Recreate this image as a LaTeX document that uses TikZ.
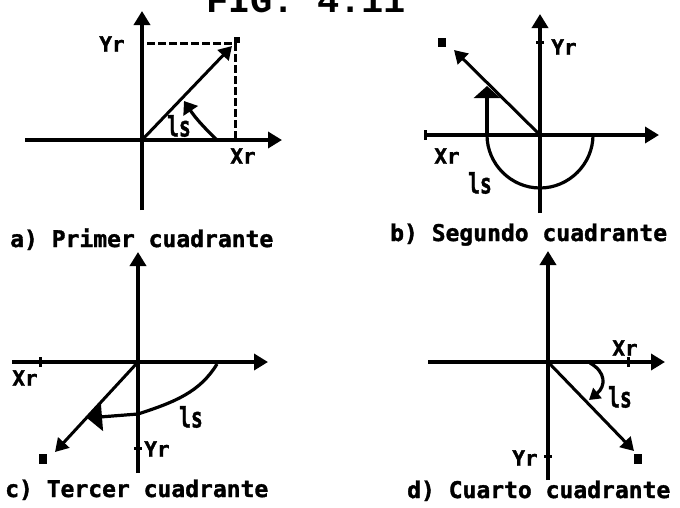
\documentclass[tikz,border=0pt]{standalone}
\usepackage{fontspec}
\usepackage{graphicx}
\usetikzlibrary{arrows.meta}
\newfontfamily\capfont[FakeBold=1.5]{DejaVu Sans Mono Bold}
\newfontfamily\ttlfont{Liberation Mono}
\begin{document}
\begin{tikzpicture}[x=1pt,y=-1pt,
  axis/.style={line width=3.6pt},
  axarrow/.style={axis,-{Triangle[length=14pt,width=16pt]}},
  vec/.style={line width=3pt,-{Triangle[length=13pt,width=15pt]}},
  angline/.style={line width=3.2pt},
  angarrow/.style={angline,-{Triangle[length=12pt,width=17pt]}},
  dashln/.style={line width=3pt,dash pattern=on 8pt off 3pt},
  tickln/.style={line width=3pt},
  lab/.style={font=\capfont\fontsize{21}{21}\selectfont,inner sep=0pt},
  anglab/.style={font=\capfont\fontsize{28}{28}\selectfont,inner sep=0pt},
  captxt/.style={font=\capfont\fontsize{23}{23}\selectfont,inner sep=0pt,anchor=base west},
  markbox/.style={fill=black,inner sep=0pt,minimum width=8pt,minimum height=9pt}]
\useasboundingbox[fill=white] (0,0) rectangle (680,507);

% title
\node[font=\ttlfont\bfseries\fontsize{37}{37}\selectfont,anchor=base,inner sep=0pt] (title) at (306,12) {FIG. 4.11};

% ---------- a) ----------
\coordinate (aO) at (142,140);
\coordinate (aT) at (142,11);
\coordinate (aB) at (142,210);
\coordinate (aL) at (25,140);
\coordinate (aR) at (282,140);
\coordinate (aP) at (232,46);
\coordinate (aD1) at (147,43);
\coordinate (aD2) at (235,43);
\coordinate (aD3) at (235,140);
\coordinate (aA1) at (216,139);
\coordinate (aA2) at (184,101);
\draw[axis] (aB) -- (aO);
\draw[axarrow] (aO) -- (aT);
\draw[axis] (aL) -- (aO);
\draw[axarrow] (aO) -- (aR);
\draw[dashln] (aD1) -- (aD2);
\draw[dashln] (aD2) -- (aD3);
\draw[vec] (aO) -- (aP);
\draw[angarrow] (aA1) to[bend left=6] (aA2);
\node[markbox,minimum width=6pt,minimum height=6pt] (aM) at (237,40) {};
\node[lab] (aYr) at (112,44) {Yr};
\node[lab] (aXr) at (243,156) {Xr};
\node[anglab] (als) at (179,126) {\scalebox{0.7}[1]{ls}};
\node[captxt] (acap) at (10,247) {a) Primer cuadrante};

% ---------- b) ----------
\coordinate (bO) at (540,135);
\coordinate (bT) at (540,14);
\coordinate (bB) at (540,213);
\coordinate (bL) at (425,135);
\coordinate (bR) at (659,135);
\coordinate (bP) at (454,50);
\coordinate (bS) at (593,135);
\coordinate (bE) at (487,135);
\coordinate (bU) at (487,86);
\draw[axis] (bB) -- (bO);
\draw[axarrow] (bO) -- (bT);
\draw[axis] (bL) -- (bO);
\draw[axarrow] (bO) -- (bR);
\draw[tickln] (425,130) -- (425,140);
\draw[tickln] (536,42) -- (544,42);
\draw[vec] (bO) -- (bP);
\draw[angline] (bS) .. controls (593,164) and (569,188) .. (540,188)
      .. controls (511,188) and (487,164) .. (bE);
\draw[angline,-{Triangle[length=12pt,width=26pt]}] (bE) -- (bU);
\node[markbox] (bM) at (442,42) {};
\node[lab] (bYr) at (564,47) {Yr};
\node[lab] (bXr) at (447,156) {Xr};
\node[anglab] (bls) at (480,183) {\scalebox{0.7}[1]{ls}};
\node[captxt] (bcap) at (390,241) {b) Segundo cuadrante};

% ---------- c) ----------
\coordinate (cO) at (138,362);
\coordinate (cT) at (138,252);
\coordinate (cB) at (138,473);
\coordinate (cL) at (12,362);
\coordinate (cR) at (268,362);
\coordinate (cP) at (55,452);
\coordinate (cS) at (217,364);
\coordinate (cY) at (138,414);
\coordinate (cU) at (87,418);
\draw[axis] (cB) -- (cO);
\draw[axarrow] (cO) -- (cT);
\draw[axis] (cL) -- (cO);
\draw[axarrow] (cO) -- (cR);
\draw[tickln] (40,357) -- (40,367);
\draw[tickln] (134,448) -- (142,448);
\draw[vec] (cO) -- (cP);
\draw[angline] (cS) .. controls (200,392) and (175,402) .. (cY);
\draw[angline,-{Triangle[length=15pt,width=28pt]}] (cY) -- (cU);
\node[markbox,minimum height=10pt] (cM) at (43,459) {};
\node[lab] (cXr) at (25,378) {Xr};
\node[lab] (cYr) at (157,449) {Yr};
\node[anglab] (cls) at (191,417) {\scalebox{0.7}[1]{ls}};
\node[captxt] (ccap) at (5,497) {c) Tercer cuadrante};

% ---------- d) ----------
\coordinate (dO) at (548,362);
\coordinate (dT) at (548,251);
\coordinate (dB) at (548,480);
\coordinate (dL) at (428,362);
\coordinate (dR) at (665,362);
\coordinate (dP) at (634,451);
\coordinate (dS) at (590,363);
\coordinate (dU) at (589,400);
\draw[axis] (dB) -- (dO);
\draw[axarrow] (dO) -- (dT);
\draw[axis] (dL) -- (dO);
\draw[axarrow] (dO) -- (dR);
\draw[tickln] (628,357) -- (628,367);
\draw[tickln] (544,456) -- (552,456);
\draw[vec] (dO) -- (dP);
\draw[angline,-{Triangle[length=11pt,width=13pt]}] (dS) .. controls (606,372) and (606,386) .. (dU);
\node[markbox,minimum height=10pt] (dM) at (638,459) {};
\node[lab] (dXr) at (625,348) {Xr};
\node[lab] (dYr) at (525,458) {Yr};
\node[anglab] (dls) at (620,397) {\scalebox{0.7}[1]{ls}};
\node[captxt] (dcap) at (407,498) {d) Cuarto cuadrante};
\end{tikzpicture}
\end{document}
